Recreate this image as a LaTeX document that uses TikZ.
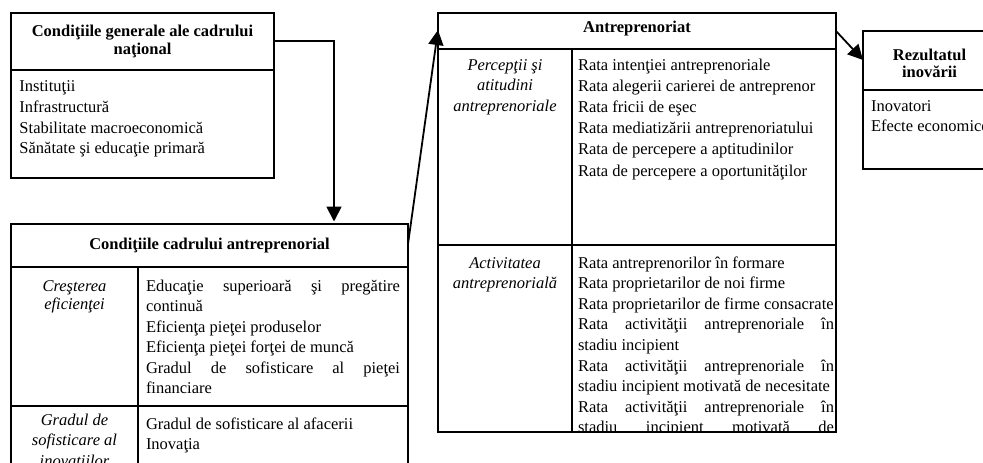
\documentclass[tikz,border=0pt]{standalone}
\usepackage{fontspec}
\setmainfont{Liberation Serif}
\usetikzlibrary{arrows.meta,calc}
\newcommand{\jl}[1]{\makebox[\linewidth][s]{#1}}
\newcommand{\fs}[1]{\fontsize{16.5}{#1}\selectfont}
\tikzset{
  boxframe/.style={draw, rectangle, line width=1.9pt, inner sep=0pt, outer sep=0pt},
  rulel/.style={line width=1.9pt},
  conn/.style={line width=1.8pt, -{Triangle[length=15pt,width=15pt]}},
  txt/.style={anchor=base west, inner sep=0pt, outer sep=0pt},
}
\begin{document}
\begin{tikzpicture}[x=1pt,y=-1pt]
\useasboundingbox (0,0) rectangle (983,463);
\clip (0,0) rectangle (983,463);
\fill[white] (0,0) rectangle (983,463);

% boxes
\node[boxframe, minimum width=263pt, minimum height=165pt] (gen) at (142.5,95.5) {};
\node[boxframe, minimum width=397pt, minimum height=296pt] (cad) at (209.5,372) {};
\node[boxframe, minimum width=398pt, minimum height=419pt] (ant) at (637,222.5) {};
\node[boxframe, minimum width=133pt, minimum height=138pt] (rez) at (929.5,100) {};

% inner rules
\draw[rulel] (gen.west |- 0,70) -- (gen.east |- 0,70);
\draw[rulel] (cad.west |- 0,267) -- (cad.east |- 0,267);
\draw[rulel] (138,267) -- (138,520);
\draw[rulel] (cad.west |- 0,406) -- (cad.east |- 0,406);
\draw[rulel] (ant.west |- 0,49) -- (ant.east |- 0,49);
\draw[rulel] (572,49) -- (572,0 |- ant.south);
\draw[rulel] (ant.west |- 0,245) -- (ant.east |- 0,245);
\draw[rulel] (rez.west |- 0,90) -- (rez.east |- 0,90);

% texts: general conditions
\node[txt] (genh) at (11,36) {\parbox[t]{263pt}{\fs{18}\centering\bfseries Condiţiile generale ale cadrului\\naţional}};
\node[txt] (genb) at (19.5,91.5) {\parbox[t]{250pt}{\fs{20.8}Instituţii\\Infrastructură\\Stabilitate macroeconomică\\Sănătate şi educaţie primară}};

% entrepreneurial framework
\node[txt] (cadh) at (11,249) {\parbox[t]{397pt}{\fs{18}\centering\bfseries Condiţiile cadrului antreprenorial}};
\node[txt] (cadl1) at (11,291) {\parbox[t]{127pt}{\fs{18}\centering\itshape Creşterea\\eficienţei}};
\node[txt] (cadr1) at (146,291) {\parbox[t]{254pt}{\fs{20.5}\jl{Educaţie superioară şi pregătire}\\continuă\\Eficienţa pieţei produselor\\Eficienţa pieţei forţei de muncă\\\jl{Gradul de sofisticare al pieţei}\\financiare}};
\node[txt] (cadl2) at (11,425) {\parbox[t]{127pt}{\fs{20.5}\centering\itshape Gradul de\\sofisticare al\\inovaţiilor}};
\node[txt] (cadr2) at (146,429) {\parbox[t]{254pt}{\fs{20}Gradul de sofisticare al afacerii\\Inovaţia}};

% entrepreneurship
\node[txt] (anth) at (438,32) {\parbox[t]{398pt}{\fs{18}\centering\bfseries Antreprenoriat}};
\begin{scope}
\clip (ant.north west) rectangle (ant.south east);
\node[txt] (antl1) at (438,70) {\parbox[t]{134pt}{\fs{20.8}\centering\itshape Percepţii şi\\atitudini\\antreprenoriale}};
\node[txt] (antr1) at (578,70) {\parbox[t]{256pt}{\fs{21.2}Rata intenţiei antreprenoriale\\Rata alegerii carierei de antreprenor\\Rata fricii de eşec\\Rata mediatizării antreprenoriatului\\Rata de percepere a aptitudinilor\\Rata de percepere a oportunităţilor}};
\node[txt] (antl2) at (438,268) {\parbox[t]{134pt}{\fs{20}\centering\itshape Activitatea\\antreprenorială}};
\node[txt] (antr2) at (578,268) {\parbox[t]{256pt}{\fs{20.6}Rata antreprenorilor în formare\\Rata proprietarilor de noi firme\\Rata proprietarilor de firme consacrate\\\jl{Rata activităţii antreprenoriale în}\\stadiu incipient\\\jl{Rata activităţii antreprenoriale în}\\stadiu incipient motivată de necesitate\\\jl{Rata activităţii antreprenoriale în}\\\jl{stadiu incipient motivată de}}};
\end{scope}

% innovation result
\node[txt] (rezh) at (863,60) {\parbox[t]{133pt}{\fs{17.5}\centering\bfseries Rezultatul\\inovării}};
\node[txt] (rezb) at (871,111.7) {\parbox[t]{140pt}{\fs{20}Inovatori\\Efecte economice}};

% connectors
\draw[conn, shorten >=2.5pt] ($(gen.north east)+(0,28)$) -| ($(cad.north west)+(323,0)$);
\draw[conn] ($(cad.north east)+(0,20)$) -- ($(ant.north west)+(0,17)$);
\draw[conn] ($(ant.north east)+(0,18)$) -- ($(rez.north west)+(0,29)$);
\end{tikzpicture}
\end{document}
